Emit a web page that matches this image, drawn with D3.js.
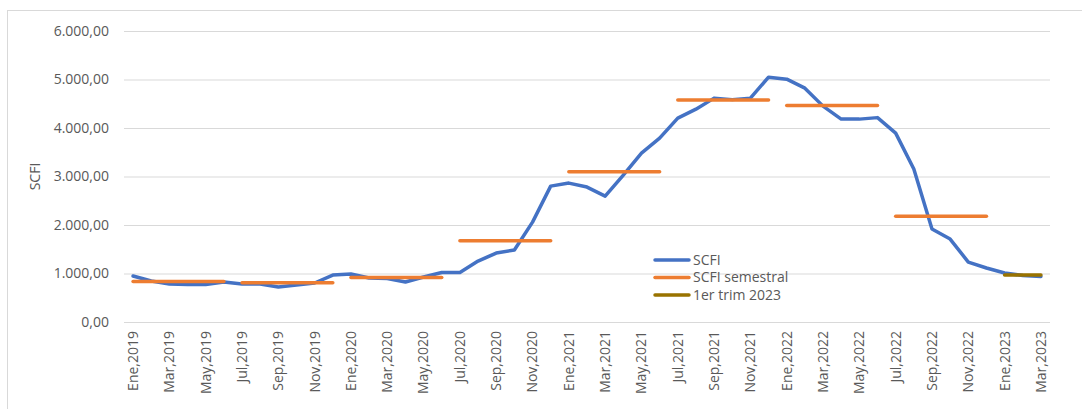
<!DOCTYPE html>
<html>
<head>
<meta charset="utf-8">
<script src="https://cdn.jsdelivr.net/npm/d3@7"></script>
<style>
  body { margin: 0; background: #fff; }
  svg { display: block; font-family: "Open Sans", sans-serif; }
</style>
</head>
<body>
<script>
const monthNames = ["Ene","Feb","Mar","Abr","May","Jun","Jul","Ago","Sep","Oct","Nov","Dic"];
const years = [2019, 2020, 2021, 2022, 2023];

// monthly SCFI values, Ene 2019 .. Mar 2023
const scfi = [
  948, 845, 783, 773, 773, 824, 783, 783, 721, 762, 804, 968,
  989, 907, 896, 824, 927, 1020, 1020, 1257, 1422, 1484, 2060, 2802,
  2864, 2782, 2596, 3029, 3482, 3791, 4204, 4389, 4616, 4585, 4616, 5048,
  5007, 4822, 4451, 4183, 4183, 4214, 3894, 3153, 1916, 1710, 1236, 1113,
  1010, 958, 938
];

// semester averages: first month index, last month index, value
const semStart = [0, 6, 12, 18, 24, 30, 36, 42];
const semEnd   = [5, 11, 17, 23, 29, 35, 41, 47];
const semValue = [835, 810, 920, 1675, 3097, 4579, 4465, 2178];

const trimStart = 48, trimEnd = 50, trimValue = 968;

const yTicks = [0, 1000, 2000, 3000, 4000, 5000, 6000];

const months = [];
years.forEach(y => monthNames.forEach(m => months.push(m + "," + y)));
const cats = months.slice(0, scfi.length);

const width = 1082, height = 409;
const svg = d3.select("body").append("svg").attr("width", width).attr("height", height);

svg.append("rect")
  .attr("x", 7.5).attr("y", 10.5)
  .attr("width", width + 10).attr("height", height + 10)
  .attr("fill", "none").attr("stroke", "#d9d9d9");

const plotLeft = 124, plotRight = 1050, plotTop = 31, plotBottom = 322;

const x = d3.scalePoint().domain(cats).range([plotLeft, plotRight]).padding(0.5);
const y = d3.scaleLinear().domain([0, 6000]).range([plotBottom, plotTop]);

const fmt = v => d3.format(",.2f")(v).replace(/,/g, "#").replace(".", ",").replace(/#/g, ".");

// gridlines
svg.append("g").selectAll("line").data(yTicks).enter().append("line")
  .attr("x1", plotLeft).attr("x2", plotRight)
  .attr("y1", d => y(d) + 0.5).attr("y2", d => y(d) + 0.5)
  .attr("stroke", "#d9d9d9").attr("stroke-width", 1);

// y labels
svg.append("g").selectAll("text").data(yTicks).enter().append("text")
  .attr("x", 109).attr("y", d => y(d)).attr("dy", "0.35em")
  .attr("text-anchor", "end").attr("font-size", 14).attr("fill", "#595959")
  .text(fmt);

svg.append("text")
  .attr("transform", "translate(40," + ((plotTop + plotBottom) / 2) + ") rotate(-90)")
  .attr("text-anchor", "middle").attr("font-size", 14).attr("fill", "#595959")
  .text("SCFI");

// x labels every 2 months
svg.append("g").selectAll("text").data(cats.filter((d, i) => i % 2 === 0)).enter().append("text")
  .attr("transform", d => "translate(" + x(d) + "," + (plotBottom + 9) + ") rotate(-90)")
  .attr("text-anchor", "end").attr("dy", "0.35em")
  .attr("font-size", 14).attr("fill", "#595959")
  .text(d => d);

// SCFI line
const line = d3.line().x((d, i) => x(cats[i])).y(d => y(d));
svg.append("path").datum(scfi)
  .attr("d", line)
  .attr("fill", "none").attr("stroke", "#4472C4").attr("stroke-width", 3.5)
  .attr("stroke-linejoin", "round").attr("stroke-linecap", "round");

// semester segments
svg.append("g").selectAll("line").data(semValue).enter().append("line")
  .attr("x1", (d, i) => x(cats[semStart[i]]))
  .attr("x2", (d, i) => x(cats[semEnd[i]]))
  .attr("y1", d => y(d)).attr("y2", d => y(d))
  .attr("stroke", "#ED7D31").attr("stroke-width", 3.5).attr("stroke-linecap", "round");

// first quarter 2023
svg.append("line")
  .attr("x1", x(cats[trimStart])).attr("x2", x(cats[trimEnd]))
  .attr("y1", y(trimValue)).attr("y2", y(trimValue))
  .attr("stroke", "#997300").attr("stroke-width", 3.5).attr("stroke-linecap", "round");

// legend
const legend = [
  { name: "SCFI", color: "#4472C4" },
  { name: "SCFI semestral", color: "#ED7D31" },
  { name: "1er trim 2023", color: "#997300" }
];
const lg = svg.append("g").attr("transform", "translate(653,260)");
legend.forEach((d, i) => {
  const g = lg.append("g").attr("transform", "translate(0," + (i * 17.5) + ")");
  g.append("line").attr("x1", 2).attr("x2", 36).attr("y1", 0).attr("y2", 0)
    .attr("stroke", d.color).attr("stroke-width", 3.5).attr("stroke-linecap", "round");
  g.append("text").attr("x", 40).attr("y", 0).attr("dy", "0.35em")
    .attr("font-size", 14).attr("fill", "#595959").text(d.name);
});
</script>
</body>
</html>
